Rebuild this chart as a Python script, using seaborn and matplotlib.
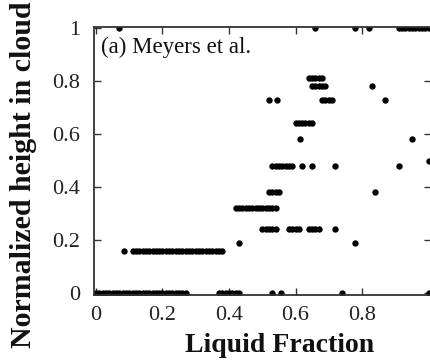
import matplotlib
matplotlib.use("Agg")
import matplotlib.pyplot as plt
import seaborn as sns
import pandas as pd

# ---- data ----
x_at_0 = [0.00, 0.01, 0.02, 0.03, 0.04, 0.05, 0.06, 0.07, 0.08, 0.09, 0.10, 0.11, 0.12, 0.13,
          0.14, 0.15, 0.16, 0.17, 0.18, 0.19, 0.20, 0.21, 0.22, 0.23, 0.24, 0.25, 0.26, 0.27,
          0.37, 0.38, 0.39, 0.40, 0.41, 0.42, 0.43, 0.53, 0.555, 0.74, 1.00]
x_at_016 = [0.085, 0.11, 0.12, 0.13, 0.14, 0.15, 0.16, 0.17, 0.18, 0.19, 0.20, 0.21, 0.22,
            0.23, 0.24, 0.25, 0.26, 0.27, 0.28, 0.29, 0.30, 0.31, 0.32, 0.33, 0.34, 0.35,
            0.36, 0.37, 0.38]
x_at_019 = [0.43, 0.78]
x_at_024 = [0.50, 0.51, 0.52, 0.53, 0.54, 0.58, 0.59, 0.60, 0.61, 0.64, 0.65, 0.66, 0.67, 0.72]
x_at_032 = [0.42, 0.43, 0.44, 0.45, 0.46, 0.47, 0.48, 0.49, 0.50, 0.51, 0.52, 0.53, 0.54]
x_at_038 = [0.52, 0.53, 0.54, 0.55, 0.84]
x_at_048 = [0.53, 0.54, 0.55, 0.56, 0.57, 0.58, 0.59, 0.62, 0.65, 0.72, 0.91]
x_at_050 = [1.00]
x_at_058 = [0.615, 0.95]
x_at_064 = [0.60, 0.61, 0.62, 0.63, 0.64, 0.65]
x_at_073 = [0.52, 0.545, 0.68, 0.69, 0.70, 0.71, 0.87]
x_at_078 = [0.65, 0.66, 0.67, 0.68, 0.69, 0.83]
x_at_081 = [0.64, 0.65, 0.66, 0.67, 0.68]
x_at_100 = [0.07, 0.66, 0.78, 0.82, 0.91, 0.92, 0.93, 0.94, 0.95, 0.96, 0.97, 0.98, 0.99, 1.00]

levels = [0.0, 0.16, 0.19, 0.24, 0.32, 0.38, 0.48, 0.50, 0.58, 0.64, 0.73, 0.78, 0.81, 1.0]
rows = [x_at_0, x_at_016, x_at_019, x_at_024, x_at_032, x_at_038, x_at_048, x_at_050,
        x_at_058, x_at_064, x_at_073, x_at_078, x_at_081, x_at_100]

x_ticks = [0, 0.2, 0.4, 0.6, 0.8]
x_tick_labels = ["0", "0.2", "0.4", "0.6", "0.8"]
y_ticks = [0, 0.2, 0.4, 0.6, 0.8, 1.0]
y_tick_labels = ["0", "0.2", "0.4", "0.6", "0.8", "1"]

xs, ys = [], []
for lev, row in zip(levels, rows):
    xs.extend(row)
    ys.extend([lev] * len(row))
df = pd.DataFrame({"liquid_fraction": xs, "height": ys})

# ---- figure ----
sns.set_theme(style="ticks")
plt.rcParams["font.family"] = ["Liberation Serif", "DejaVu Serif"]

W, H = 430, 361
fig = plt.figure(figsize=(W / 100, H / 100), dpi=100)
fig.patch.set_facecolor("white")
left, right, top, bottom = 94, 431, 26.5, 294.5
ax = fig.add_axes([left / W, (H - bottom) / H, (right - left) / W, (bottom - top) / H])
ax.set_facecolor("white")

sns.scatterplot(data=df, x="liquid_fraction", y="height", ax=ax, color="black",
                s=21, linewidth=0, legend=False)

ax.set_xlim(-0.006, 1.0075)
ax.set_ylim(-0.0057, 1.0057)
ax.set_xticks(x_ticks)
ax.set_xticklabels(x_tick_labels)
ax.set_yticks(y_ticks)
ax.set_yticklabels(y_tick_labels)

for sp in ax.spines.values():
    sp.set_visible(True)
    sp.set_color("#333333")
    sp.set_linewidth(1.3)

ax.tick_params(axis="both", which="major", direction="in", length=5, width=1.0,
               color="#333333", labelsize=16, top=True, right=True, labelcolor="#222222")
ax.tick_params(axis="x", pad=8)
ax.tick_params(axis="y", pad=10)

ax.set_xlabel("")
ax.set_ylabel("")
fig.text(280 / W, 1 - 345 / H, "Liquid Fraction", ha="center", va="center",
         fontsize=20, fontweight="bold", color="#111111")
fig.text(24 / W, 1 - 348 / H, "Normalized height in cloud", ha="center", va="bottom",
         rotation=90, fontsize=21.5, fontweight="bold", color="#111111")

ax.text(0.022, 0.96, "(a) Meyers et al.", transform=ax.transAxes, ha="left", va="top",
        fontsize=16.5, color="#111111")

fig.savefig("out.png", dpi=100, facecolor="white")
